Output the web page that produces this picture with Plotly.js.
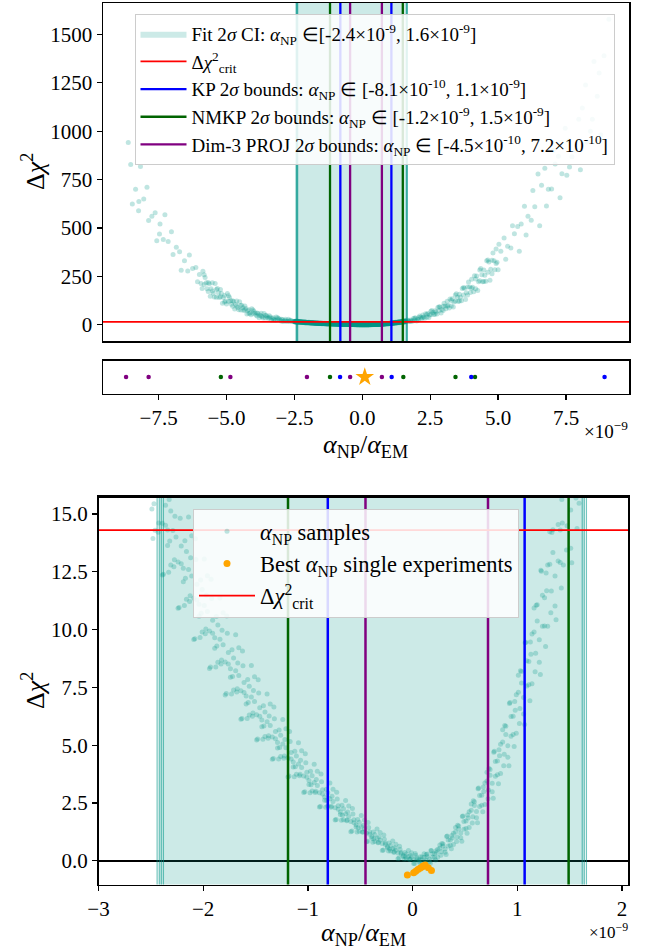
<!DOCTYPE html>
<html>
<head>
<meta charset="utf-8">
<script src="https://cdn.plot.ly/plotly-3.0.1.min.js"></script>
<style>html,body{margin:0;padding:0;background:#fff}#plot{width:648px;height:952px}</style>
</head>
<body>
<div id="plot"></div>
<script>
// All alpha values are in units of 1e-9 (shown by the "×10^-9" offset label)
const sampleX = [
-2.52,-2.49,-2.51,-2.48, -2.43,-2.46,-2.44,-2.47, -2.41,-2.38,-2.42,-2.39, -2.37,-2.34,-2.36,-2.33,
-2.28,-2.31,-2.29,-2.32, -2.26,-2.23,-2.27,-2.24, -2.22,-2.19,-2.21,-2.18, -2.13,-2.16,-2.14,-2.17,
-2.11,-2.08,-2.12,-2.09, -2.07,-2.04,-2.06,-2.03, -1.98,-2.01,-1.99,-2.02, -1.96,-1.93,-1.97,-1.94,
-1.92,-1.89,-1.91,-1.88, -1.83,-1.86,-1.84,-1.87, -1.81,-1.78,-1.82,-1.79, -1.77,-1.74,-1.76,-1.73,
-1.68,-1.71,-1.69,-1.72, -1.66,-1.63,-1.67,-1.64, -1.62,-1.59,-1.61,-1.58, -1.53,-1.56,-1.54,-1.57,
-1.51,-1.48,-1.52,-1.49, -1.47,-1.44,-1.46,-1.43, -1.38,-1.41,-1.39,-1.42, -1.36,-1.33,-1.37,-1.34,
-1.32,-1.29,-1.31,-1.28, -1.23,-1.26,-1.24,-1.27, -1.21,-1.18,-1.22,-1.19, -1.17,-1.14,-1.16,-1.13,
-1.08,-1.11,-1.09,-1.12, -1.06,-1.03,-1.07,-1.04, -1.02,-0.99,-1.01,-0.98, -0.93,-0.96,-0.94,-0.97,
-0.91,-0.88,-0.92,-0.89, -0.87,-0.84,-0.86,-0.83, -0.78,-0.81,-0.79,-0.82, -0.76,-0.73,-0.77,-0.74,
-0.72,-0.69,-0.71,-0.68, -0.63,-0.66,-0.64,-0.67, -0.61,-0.58,-0.62,-0.59, -0.57,-0.54,-0.56,-0.53,
-0.48,-0.51,-0.49,-0.52, -0.46,-0.43,-0.47,-0.44, -0.42,-0.39,-0.41,-0.38, -0.33,-0.36,-0.34,-0.37,
-0.31,-0.28,-0.32,-0.29, -0.27,-0.24,-0.26,-0.23, -0.18,-0.21,-0.19,-0.22, -0.16,-0.13,-0.17,-0.14,
-0.12,-0.09,-0.11,-0.08, -0.03,-0.06,-0.04,-0.07, -0.01,0.02,-0.02,0.01, 0.03,0.06,0.04,0.07,
0.12,0.09,0.11,0.08, 0.14,0.17,0.13,0.16, 0.18,0.21,0.19,0.22, 0.27,0.24,0.26,0.23,
0.29,0.32,0.28,0.31, 0.33,0.36,0.34,0.37, 0.42,0.39,0.41,0.38, 0.44,0.47,0.43,0.46,
0.48,0.51,0.49,0.52, 0.57,0.54,0.56,0.53, 0.59,0.62,0.58,0.61, 0.63,0.66,0.64,0.67,
0.72,0.69,0.71,0.68, 0.74,0.77,0.73,0.76, 0.78,0.81,0.79,0.82, 0.87,0.84,0.86,0.83,
0.89,0.92,0.88,0.91, 0.93,0.96,0.94,0.97, 1.02,0.99,1.01,0.98, 1.04,1.07,1.03,1.06,
1.08,1.11,1.09,1.12, 1.17,1.14,1.16,1.13, 1.19,1.22,1.18,1.21, 1.23,1.26,1.24,1.27,
1.32,1.29,1.31,1.28, 1.34,1.37,1.33,1.36, 1.38,1.41,1.39,1.42, 1.47,1.44,1.46,1.43,
1.49,1.52,1.48,1.51, 1.53,1.56,1.54,1.57, 1.62,1.59,1.61,1.58,
-2.475,-2.460,-2.490, -2.425,-2.410,-2.440, -2.375,-2.360,-2.390, -2.325,-2.310,-2.340,
-2.275,-2.260,-2.290, -2.225,-2.210,-2.240, -2.175,-2.160,-2.190, -2.125,-2.110,-2.140,
-2.075,-2.060,-2.090, -2.025,-2.010,-2.040, -1.975,-1.960,-1.990, -1.925,-1.910,-1.940,
-1.875,-1.860,-1.890, -1.825,-1.810,-1.840, -1.775,-1.760,-1.790, -1.725,-1.710,-1.740,
-1.675,-1.660,-1.690, -1.625,-1.610,-1.640, -1.575,-1.560,-1.590, -1.525,-1.510,-1.540,
-1.475,-1.460,-1.490, -1.425,-1.410,-1.440, -1.375,-1.360,-1.390, -1.325,-1.310,-1.340,
-1.275,-1.260,-1.290, -1.225,-1.210,-1.240, -1.175,-1.160,-1.190, -1.125,-1.110,-1.140,
-1.075,-1.060,-1.090, -1.025,-1.010,-1.040, -0.975,-0.960,-0.990, -0.925,-0.910,-0.940,
-0.875,-0.860,-0.890, -0.825,-0.810,-0.840, -0.775,-0.760,-0.790, -0.725,-0.710,-0.740,
-0.675,-0.660,-0.690, -0.625,-0.610,-0.640, -0.575,-0.560,-0.590, -0.525,-0.510,-0.540,
-0.475,-0.460,-0.490, -0.425,-0.410,-0.440, -0.375,-0.360,-0.390, -0.325,-0.310,-0.340,
-0.275,-0.260,-0.290, -0.225,-0.210,-0.240, -0.175,-0.160,-0.190, -0.125,-0.110,-0.140,
-0.075,-0.060,-0.090, -0.025,-0.010,-0.040, 0.025,0.040,0.010, 0.075,0.090,0.060,
0.125,0.140,0.110, 0.175,0.190,0.160, 0.225,0.240,0.210, 0.275,0.290,0.260,
0.325,0.340,0.310, 0.375,0.390,0.360, 0.425,0.440,0.410, 0.475,0.490,0.460,
0.525,0.540,0.510, 0.575,0.590,0.560, 0.625,0.640,0.610, 0.675,0.690,0.660,
0.725,0.740,0.710, 0.775,0.790,0.760, 0.825,0.840,0.810, 0.875,0.890,0.860,
0.925,0.940,0.910, 0.975,0.990,0.960, 1.025,1.040,1.010, 1.075,1.090,1.060,
1.125,1.140,1.110, 1.175,1.190,1.160, 1.225,1.240,1.210, 1.275,1.290,1.260,
1.325,1.340,1.310, 1.375,1.390,1.360, 1.425,1.440,1.410, 1.475,1.490,1.460,
1.525,1.540,1.510, 1.575,1.590,1.560,
-2.64,-2.57,-2.60, -2.79,-2.72,-2.75, -2.94,-2.87,-2.90, -3.09,-3.02,-3.05, -3.24,-3.17,-3.20,
-3.39,-3.32,-3.35, -3.54,-3.47,-3.50, -3.69,-3.62,-3.65, -3.84,-3.77,-3.80, -3.99,-3.92,-3.95,
-4.14,-4.07,-4.10, -4.29,-4.22,-4.25, -4.44,-4.37,-4.40, -4.59,-4.52,-4.55, -4.74,-4.67,-4.70,
-4.89,-4.82,-4.85, -5.04,-4.97,-5.00, -5.19,-5.12,-5.15, -5.34,-5.27,-5.30, -5.49,-5.42,-5.45,
-5.64,-5.57,-5.60, -5.79,-5.72,-5.75, -5.94,-5.87,-5.90,
-2.675,-2.675, -2.825,-2.825, -2.975,-2.975, -3.125,-3.125, -3.275,-3.275, -3.425,-3.425,
-3.575,-3.575, -3.725,-3.725, -3.875,-3.875, -4.025,-4.025, -4.175,-4.175, -4.325,-4.325,
-4.475,-4.475, -4.625,-4.625, -4.775,-4.775, -4.925,-4.925, -5.075,-5.075, -5.225,-5.225,
-5.375,-5.375, -5.525,-5.525, -5.675,-5.675, -5.825,-5.825,
-6.13,-6.07, -6.43,-6.37, -6.73,-6.67, -7.03,-6.97, -7.33,-7.27, -7.63,-7.57, -7.93,-7.87,
-8.23,-8.17, -8.53,-8.47, -8.62,-8.24,-7.47,
-6.00,-6.25,-6.55,-6.85,-7.15,-7.45,-7.75,-8.05,-8.35,
1.66,1.73,1.70, 1.81,1.88,1.85, 1.96,2.03,2.00, 2.11,2.18,2.15, 2.26,2.33,2.30, 2.41,2.48,2.45,
2.56,2.63,2.60, 2.71,2.78,2.75, 2.86,2.93,2.90, 3.01,3.08,3.05, 3.16,3.23,3.20, 3.31,3.38,3.35,
3.46,3.53,3.50, 3.61,3.68,3.65, 3.76,3.83,3.80, 3.91,3.98,3.95, 4.06,4.13,4.10, 4.21,4.28,4.25,
4.36,4.43,4.40, 4.51,4.58,4.55, 4.66,4.73,4.70, 4.81,4.88,4.85, 4.96,5.03,5.00,
1.775,1.775, 1.925,1.925, 2.075,2.075, 2.225,2.225, 2.375,2.375, 2.525,2.525, 2.675,2.675,
2.825,2.825, 2.975,2.975, 3.125,3.125, 3.275,3.275, 3.425,3.425, 3.575,3.575, 3.725,3.725,
3.875,3.875, 4.025,4.025, 4.175,4.175, 4.325,4.325, 4.475,4.475, 4.625,4.625, 4.775,4.775,
4.925,4.925,
5.22,5.28, 5.47,5.53, 5.72,5.78, 5.97,6.03, 6.22,6.28, 6.47,6.53, 6.72,6.78, 6.97,7.03,
7.22,7.28, 7.47,7.53, 7.63,7.72, 7.97,8.03, 8.22,8.28, 8.47,8.53, 8.72,8.78, 9.08,
5.10,5.35,5.60,5.85,6.10,6.35,6.60,6.85,7.10,7.35,7.60,7.85,8.10,8.40,8.65,8.90
];
const sampleY = [
18.63,15.22,17.14,13.94, 14.21,16.88,18.72,15.44, 15.8,12.4,16.8,14.6, 16.73,13.64,15.38,12.48,
12.72,15.13,16.79,13.83, 14.01,10.96,14.90,12.93, 14.82,12.07,13.62,11.04, 11.22,13.38,14.87,12.22,
12.32,9.61,13.11,11.36, 13.03,10.58,11.96,9.66, 9.82,11.74,13.06,10.71, 10.78,8.38,11.49,9.94,
11.35,9.19,10.41,8.38, 8.51,10.2,11.37,9.29, 9.35,7.24,9.97,8.6, 9.84,7.94,9.01,7.22,
7.3,8.77,9.78,7.97, 8.02,6.16,8.56,7.36, 8.44,6.78,7.71,6.15, 6.25,7.55,8.45,6.85,
6.89,5.27,7.37,6.32, 7.26,5.8,6.62,5.26, 5.3,6.44,7.22,5.83, 5.85,4.43,6.26,5.35,
6.14,4.88,5.59,4.4, 4.44,5.43,6.11,4.9, 4.89,3.67,5.25,4.46, 5.16,4.06,4.68,3.64,
3.68,4.53,5.11,4.07, 4.04,2.99,4.35,3.67, 4.24,3.3,3.83,2.94, 2.95,3.68,4.18,3.29,
3.26,2.35,3.52,2.94, 3.42,2.62,3.07,2.32, 2.32,2.94,3.36,2.61, 2.56,1.79,2.79,2.29,
2.67,2.0,2.38,1.75, 1.73,2.25,2.61,1.97, 1.92,1.29,2.11,1.7, 2.02,1.46,1.78,1.25,
1.24,1.67,1.96,1.43, 1.38,0.85,1.54,1.2, 1.44,0.98,1.24,0.8, 0.78,1.14,1.38,0.95,
0.9,0.47,1.03,0.75, 0.93,0.56,0.77,0.42, 0.37,0.66,0.86,0.51, 0.46,0.12,0.56,0.34,
0.49,0.19,0.36,0.07, 0.06,0.29,0.44,0.17, 0.15,-0.12,0.23,0.06, 0.24,-0.02,0.13,-0.11,
-0.05,0.16,0.3,0.05, 0.18,-0.11,0.27,0.08, 0.43,0.14,0.3,0.03, 0.24,0.5,0.68,0.36,
0.64,0.27,0.75,0.51, 1.07,0.67,0.9,0.52, 0.83,1.19,1.44,0.99, 1.38,0.85,1.54,1.2,
1.94,1.4,1.7,1.19, 1.63,2.12,2.46,1.85, 2.39,1.65,2.6,2.13, 3.15,2.4,2.82,2.12,
2.68,3.36,3.83,3.0, 3.7,2.71,3.99,3.35, 4.74,3.72,4.29,3.33, 4.11,5.04,5.67,4.54,
5.46,4.11,5.85,4.98, 6.85,5.46,6.24,4.94, 5.94,7.18,8.03,6.51, 7.69,5.9,8.22,7.06,
9.45,7.61,8.65,6.92, 8.18,9.81,10.93,8.93, 10.37,8.06,11.05,9.56, 12.53,10.16,11.49,9.27,
10.73,12.8,14.23,11.68, 13.34,10.43,14.2,12.32, 15.83,12.9,14.55,11.8, 13.44,15.98,17.73,14.61,
16.41,12.89,17.45,15.17, 19.19,15.69,17.66,14.37, 16.15,19.16,21.23,17.54,
17.43,14.30,15.97, 14.61,17.86,16.04, 17.84,14.51,12.36, 15.63,12.80,14.31,
13.02,15.93,14.29, 15.84,12.85,10.92, 13.84,11.31,12.66, 11.47,14.06,12.60,
13.93,11.28,9.57, 12.15,9.90,11.10, 10.03,12.33,11.04, 12.18,9.84,8.32,
10.57,8.59,9.65, 8.69,10.73,9.58, 10.59,8.51,7.17, 9.13,7.39,8.31,
7.44,9.22,8.22, 9.08,7.28,6.12, 7.84,6.31,7.13, 6.39,7.96,7.08,
7.83,6.25,5.23, 6.71,5.38,6.09, 5.41,6.78,6.01, 6.65,5.28,4.39,
5.66,4.51,5.12, 4.53,5.71,5.05, 5.59,4.40,3.63, 4.74,3.74,4.27,
3.74,4.76,4.19, 4.63,3.61,2.95, 3.87,3.02,3.47, 3.01,3.87,3.39,
3.75,2.89,2.33, 3.10,2.37,2.76, 2.36,3.10,2.68, 2.96,2.23,1.76,
2.40,1.78,2.11, 1.76,2.37,2.03, 2.26,1.65,1.26, 1.79,1.28,1.56,
1.25,1.76,1.47, 1.66,1.15,0.82, 1.25,0.83,1.05, 0.80,1.22,0.98,
1.12,0.71,0.44, 0.77,0.42,0.61, 0.38,0.72,0.53, 0.63,0.30,0.09,
0.36,0.09,0.23, 0.07,0.35,0.19, 0.32,0.05,-0.12, 0.18,-0.06,0.06,
0.03,0.29,0.14, 0.44,0.15,-0.04, 0.43,0.15,0.30, 0.39,0.73,0.54,
1.05,0.64,0.37, 1.09,0.70,0.90, 1.03,1.50,1.24, 1.92,1.36,1.00,
1.98,1.44,1.72, 1.91,2.55,2.19, 3.12,2.35,1.86, 3.19,2.44,2.84,
3.06,3.95,3.45, 4.69,3.66,2.99, 4.80,3.78,4.32, 4.61,5.82,5.14,
6.80,5.39,4.48, 6.89,5.52,6.25, 6.59,8.19,7.29, 9.43,7.56,6.35,
9.46,7.66,8.62, 8.98,11.08,9.90, 12.57,10.15,8.59, 12.45,10.15,11.38,
11.67,14.32,12.83, 15.98,12.97,11.02, 15.63,12.80,14.31, 14.49,17.71,15.90,
19.48,15.86,13.52, 18.85,15.47,17.27,
23.7,17.2,19.1, 19.6,27.8,17.4, 26.9,21.7,16.9, 33.5,21.6,27.9, 27.5,40.4,22.1,
40.0,33.3,23.4, 49,33.7,41.8, 41.6,58.2,34.7, 57.9,49.4,36.5, 69.7,49.8,60.3,
60.8,82.8,51.8, 83.6,72.1,55, 100.8,73.9,88.2, 89,118.6,76.9, 119.5,104.2,81.1,
141,105.3,124.2, 122.9,161.6,106.9, 160.9,141,111.1, 187,141.1,165.4, 163.3,213.1,142.8,
211.1,185.6,147.5, 244.5,185.8,216.9, 213.1,276.4,187.1,
21.9,16.8, 19.6,28.3, 27.9,18.5, 26.3,36.5, 36.7,25.6, 34.9,47.0,
47.4,34.2, 45.4,59.8, 60.3,44.6, 58.3,75.5, 77.3,58.3, 75.5,96.5,
98.8,75.6, 96.5,122.1, 124.1,95.9, 119.4,150.1, 151,117.5, 145.2,181.6,
181.6,142.2, 174.4,217, 217.6,171.1, 208.2,258.5,
296,222, 278,360, 377,282, 480,363, 440,568, 579,434, 710,539,
637,817, 828,624, 942,589,469,
260,290,330,400,430,520,560,650,700,
24.9,16.9,20.2, 21.4,32.6,17.7, 34.5,28.5,19.5, 45.6,31,38.7, 40.6,57.1,33.8, 58.5,49.8,36.9,
73.2,52.5,63.4, 65.5,88.8,55.9, 91.2,78.9,60.6, 111.1,82,97.4, 100.3,133,86.9, 134.8,117.7,92.2,
160.6,120.5,141.7, 142.6,186.8,124.4, 188.2,165.3,130.8, 220.4,167,195.3, 194.3,252.5,170.4, 251.4,221.5,176.6,
290.5,221.6,258.1, 255.4,330.2,224.6, 324.4,286.5,229.6, 371,284.3,330.2, 323.1,416.2,284.7,
24.6,16.2, 24.9,34.7, 37.5,26.3, 38,50.7, 53.3,39.0, 53.1,69.2, 72.5,54.4,
72.2,92.5, 96.1,73.4, 95.5,121, 125.2,96.7, 122.8,154.1, 157.4,122.7, 153.8,192,
195,153, 188.7,234.6, 236.4,186.3, 227.8,282.3, 282.6,223.5, 270.8,334.8, 332.6,263.7,
316.6,390.7,
448,338, 396,511, 508,380, 612,464, 540,694, 779,511, 808,614, 701,900,
870,656, 1015,772, 815,868, 1061,801, 1239,944, 1062,1360, 1300,982, 1578,
380,405,470,520,560,610,720,700,830,780,950,900,1120,1000,1180,1390
];
// best alpha_NP of single experiments
const bestX = [-0.05, 0.01, 0.03, 0.05, 0.07, 0.09, 0.10, 0.12, 0.15, 0.18];
const bestY = [-0.62, -0.52, -0.45, -0.38, -0.32, -0.27, -0.22, -0.18, -0.30, -0.42];
// bound points in the strip
const stripPurple = [-8.70, -7.87, -4.86, -2.04, -0.45, 0.72];
const stripGreen = [-5.21, -1.19, 1.51, 3.43, 4.15];
const stripBlue = [-0.82, 1.08, 4.01, 8.92];
const stripStar = [0.09];
// bounds
const fitCI = [-2.42, 1.64];
const fitEdges = [-2.44, -2.42, -2.40, -2.38, 1.62, 1.64, 1.66];
const kpBounds = [-0.81, 1.07];
const nmkpBounds = [-1.19, 1.49];
const projBounds = [-0.45, 0.72];
const chi2Crit = 14.3;
// tick labels
const topYTicks = [0, 250, 500, 750, 1000, 1250, 1500];
const stripXTicks = [-7.5, -5, -2.5, 0, 2.5, 5, 7.5];
const botXTicks = [-3, -2, -1, 0, 1, 2];
const botYTicks = [0, 2.5, 5, 7.5, 10, 12.5, 15];

const labels = {
  fit: 'Fit 2<i>σ</i> CI: <i>α</i><sub>NP</sub> ∈[-2.4×10<sup>-9</sup>, 1.6×10<sup>-9</sup>]',
  crit: 'Δ<i>χ</i><sup>2</sup><sub>crit</sub>',
  kp: 'KP 2<i>σ</i> bounds: <i>α</i><sub>NP</sub> ∈ [-8.1×10<sup>-10</sup>, 1.1×10<sup>-9</sup>]',
  nmkp: 'NMKP 2<i>σ</i> bounds: <i>α</i><sub>NP</sub> ∈ [-1.2×10<sup>-9</sup>, 1.5×10<sup>-9</sup>]',
  proj: 'Dim-3 PROJ 2<i>σ</i> bounds: <i>α</i><sub>NP</sub> ∈ [-4.5×10<sup>-10</sup>, 7.2×10<sup>-10</sup>]',
  samples: '<i>α</i><sub>NP</sub> samples',
  best: 'Best <i>α</i><sub>NP</sub> single experiments'
};

const SERIF = "Liberation Serif";
const TEAL_PT = 'rgba(0,150,136,0.25)';
const TEAL_FILL = 'rgba(0,150,136,0.2)';
const TEAL_EDGE = 'rgba(0,150,136,0.55)';
const BIG = 1e4;

function vlines(xs) {
  const x = [], y = [];
  xs.forEach(v => { x.push(v, v, null); y.push(-BIG, BIG, null); });
  return {x, y};
}
function bandPoly(b) {
  return {x: [b[0], b[0], b[1], b[1], b[0]], y: [-BIG, BIG, BIG, -BIG, -BIG]};
}
function hline(v) { return {x: [-100, 100], y: [v, v]}; }

const traces = [];
function panel(xa, ya, top) {
  const bp = bandPoly(fitCI);
  traces.push({x: bp.x, y: bp.y, xaxis: xa, yaxis: ya, type: 'scatter', mode: 'lines', fill: 'toself',
    fillcolor: TEAL_FILL, line: {width: 0, color: TEAL_FILL}, name: labels.fit, showlegend: top, legend: 'legend', hoverinfo: 'skip'});
  const ed = vlines(fitEdges);
  traces.push({x: ed.x, y: ed.y, xaxis: xa, yaxis: ya, mode: 'lines', line: {color: TEAL_EDGE, width: 1.2}, showlegend: false, hoverinfo: 'skip'});
  traces.push({x: sampleX, y: sampleY, xaxis: xa, yaxis: ya, type: 'scatter', mode: 'markers',
    marker: {color: TEAL_PT, size: 5, line: {width: 0}}, name: labels.samples, showlegend: !top, legend: 'legend2'});
  const crit = hline(chi2Crit);
  if (top) traces.push({x: crit.x, y: crit.y, xaxis: xa, yaxis: ya, mode: 'lines', line: {color: '#ff0000', width: 1.8}, name: labels.crit, showlegend: true, legend: 'legend'});
  const kp = vlines(kpBounds), nm = vlines(nmkpBounds), pj = vlines(projBounds);
  const lw = top ? 2.3 : 2.5;
  traces.push({x: kp.x, y: kp.y, xaxis: xa, yaxis: ya, mode: 'lines', line: {color: '#0000ff', width: lw}, name: labels.kp, showlegend: top, legend: 'legend'});
  traces.push({x: nm.x, y: nm.y, xaxis: xa, yaxis: ya, mode: 'lines', line: {color: '#006400', width: lw}, name: labels.nmkp, showlegend: top, legend: 'legend'});
  traces.push({x: pj.x, y: pj.y, xaxis: xa, yaxis: ya, mode: 'lines', line: {color: '#800080', width: lw}, name: labels.proj, showlegend: top, legend: 'legend'});
  if (!top) {
    traces.push({x: bestX, y: bestY, xaxis: xa, yaxis: ya, mode: 'markers', marker: {color: '#ffa500', size: 7}, name: labels.best, showlegend: true, legend: 'legend2'});
    traces.push({x: crit.x, y: crit.y, xaxis: xa, yaxis: ya, mode: 'lines', line: {color: '#ff0000', width: 1.8}, name: labels.crit, showlegend: true, legend: 'legend2'});
  }
}
panel('x', 'y', true);
panel('x3', 'y3', false);

// strip
traces.push({x: stripPurple, y: stripPurple.map(() => 0), xaxis: 'x2', yaxis: 'y2', mode: 'markers', marker: {color: '#800080', size: 4.5}, showlegend: false});
traces.push({x: stripGreen, y: stripGreen.map(() => 0), xaxis: 'x2', yaxis: 'y2', mode: 'markers', marker: {color: '#006400', size: 4.5}, showlegend: false});
traces.push({x: stripBlue, y: stripBlue.map(() => 0), xaxis: 'x2', yaxis: 'y2', mode: 'markers', marker: {color: '#0000ff', size: 4.5}, showlegend: false});
traces.push({x: stripStar, y: stripStar.map(() => 0), xaxis: 'x2', yaxis: 'y2', mode: 'markers', marker: {color: '#ffa500', size: 14, symbol: 'star', line: {width: 0}}, showlegend: false});

const W = 648, H = 952;
const px = v => v / W, py = v => 1 - v / H;
const axBase = () => ({showline: true, mirror: true, linecolor: '#000', linewidth: 1.5, showgrid: false, zeroline: false,
  ticks: 'outside', ticklen: 5, tickwidth: 1.3, tickcolor: '#000', tickfont: {family: SERIF, size: 21, color: '#000'}, layer: 'above traces'});

const titleFont = {family: SERIF, size: 26, color: '#000'};
const layout = {
  width: W, height: H, margin: {l: 0, r: 0, t: 0, b: 0}, paper_bgcolor: '#fff', plot_bgcolor: '#fff',
  font: {family: SERIF, size: 19, color: '#000'},
  showlegend: true, hovermode: false,
  xaxis: Object.assign(axBase(), {domain: [px(103), px(629)], range: [-9.55, 9.82], anchor: 'y', showticklabels: false, ticks: ''}),
  yaxis: Object.assign(axBase(), {domain: [py(341), py(3)], range: [-84, 1662], anchor: 'x', tickvals: topYTicks}),
  xaxis2: Object.assign(axBase(), {domain: [px(103), px(629)], range: [-9.55, 9.82], anchor: 'y2', tickvals: stripXTicks, tickformat: '.1f'}),
  yaxis2: Object.assign(axBase(), {domain: [py(393.5), py(360.5)], range: [-1, 1], anchor: 'x2', ticks: '', showticklabels: false}),
  xaxis3: Object.assign(axBase(), {domain: [px(98.5), px(628.3)], range: [-3.0, 2.06], anchor: 'y3', tickvals: botXTicks}),
  yaxis3: Object.assign(axBase(), {domain: [py(884.6), py(496.7)], range: [-1.03, 15.75], anchor: 'x3', tickvals: botYTicks, tickformat: '.1f',
    zeroline: true, zerolinecolor: '#000', zerolinewidth: 2}),
  legend: {x: px(134.5), y: py(13.8), xanchor: 'left', yanchor: 'top', bgcolor: 'rgba(255,255,255,0.85)', bordercolor: '#cccccc', borderwidth: 1,
    font: {family: SERIF, size: 19, color: '#000'}, itemwidth: 46, traceorder: 'normal'},
  legend2: {x: px(193), y: py(509), xanchor: 'left', yanchor: 'top', bgcolor: 'rgba(255,255,255,0.85)', bordercolor: '#cccccc', borderwidth: 1,
    font: {family: SERIF, size: 22.5, color: '#000'}, itemwidth: 56, traceorder: 'normal'},
  shapes: [
    {type: 'line', xref: 'x3 domain', yref: 'y3 domain', x0: 0, x1: 1, y0: 1, y1: 1, line: {color: '#000', width: 2.5}}
  ],
  annotations: [
    {text: 'Δ<i>χ</i><sup>2</sup>', xref: 'paper', yref: 'paper', x: px(33), y: py(172), xanchor: 'center', yanchor: 'middle', textangle: -90, showarrow: false, font: titleFont},
    {text: 'Δ<i>χ</i><sup>2</sup>', xref: 'paper', yref: 'paper', x: px(33), y: py(691), xanchor: 'center', yanchor: 'middle', textangle: -90, showarrow: false, font: titleFont},
    {text: '<i>α</i><sub>NP</sub>/<i>α</i><sub>EM</sub>', xref: 'paper', yref: 'paper', x: px(366), y: py(446), xanchor: 'center', yanchor: 'middle', showarrow: false, font: titleFont},
    {text: '<i>α</i><sub>NP</sub>/<i>α</i><sub>EM</sub>', xref: 'paper', yref: 'paper', x: px(363), y: py(934), xanchor: 'center', yanchor: 'middle', showarrow: false, font: titleFont},
    {text: '×10<sup>−9</sup>', xref: 'paper', yref: 'paper', x: px(630), y: py(430), xanchor: 'right', yanchor: 'middle', showarrow: false, font: {family: SERIF, size: 19, color: '#000'}},
    {text: '×10<sup>−9</sup>', xref: 'paper', yref: 'paper', x: px(630), y: py(931), xanchor: 'right', yanchor: 'middle', showarrow: false, font: {family: SERIF, size: 17, color: '#000'}}
  ]
};

Plotly.newPlot('plot', traces, layout, {staticPlot: true, displayModeBar: false});
</script>
</body>
</html>
